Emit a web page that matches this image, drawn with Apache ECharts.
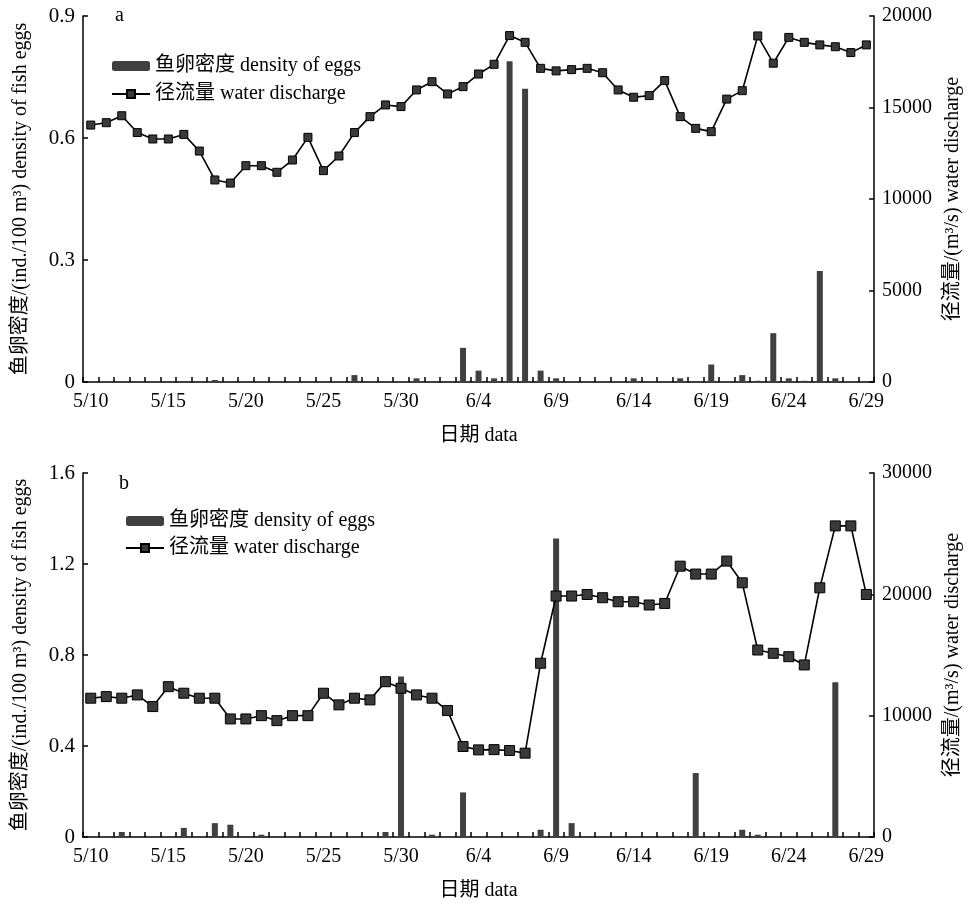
<!DOCTYPE html>
<html>
<head>
<meta charset="utf-8">
<script src="https://cdn.jsdelivr.net/npm/echarts@6/dist/echarts.min.js"></script>
<style>
  html, body { margin: 0; padding: 0; background: #fff; }
  #chart { width: 971px; height: 903px; }
</style>
</head>
<body>
<div id="chart"></div>
<script>
// dates 5/10 - 6/29
const dates = [
  '5/10','5/11','5/12','5/13','5/14','5/15','5/16','5/17','5/18','5/19','5/20',
  '5/21','5/22','5/23','5/24','5/25','5/26','5/27','5/28','5/29','5/30','5/31',
  '6/1','6/2','6/3','6/4','6/5','6/6','6/7','6/8','6/9','6/10','6/11','6/12',
  '6/13','6/14','6/15','6/16','6/17','6/18','6/19','6/20','6/21','6/22','6/23',
  '6/24','6/25','6/26','6/27','6/28','6/29'
]

// panel a
const eggsA = [
  0,0,0,0,0,0,0,0,0.005,0,0,
  0,0,0,0,0,0,0.017,0,0,0,0.009,
  0,0,0.084,0.028,0.009,0.789,0.721,0.028,0.009,0,0,0,
  0,0.009,0,0,0.009,0,0.043,0,0.017,0.003,0.12,
  0.009,0.003,0.273,0.009,0,0
]
const flowA = [
  14040,14170,14550,13630,13280,13280,13530,12620,11040,10870,11820,
  11820,11460,12130,13370,11550,12350,13630,14500,15140,15050,15960,
  16410,15740,16140,16830,17360,18930,18560,17140,17000,17070,17140,16900,
  15960,15560,15650,16470,14500,13860,13680,15460,15920,18910,17420,
  18830,18560,18420,18320,18000,18420
]

// panel b
const eggsB = [
  0,0,0.022,0,0,0,0.04,0,0.061,0.054,0,
  0.01,0,0,0,0,0,0,0,0.022,0.705,0,
  0.01,0,0.196,0,0,0,0,0.032,1.312,0.061,0,0,
  0,0,0,0,0,0.281,0,0,0.032,0.01,0,
  0,0,0,0.68,0,0
]
const flowB = [
  11440,11570,11440,11710,10750,12390,11850,11440,11440,9730,9730,
  10000,9590,10000,10000,11850,10890,11440,11300,12800,12260,11710,
  11440,10420,7460,7180,7200,7130,6910,14320,19860,19860,19990,19720,
  19390,19390,19120,19250,22320,21670,21670,22740,20950,15410,15140,
  14860,14180,20540,25640,25640,19990
]

const FONT = '"Liberation Serif", "Times New Roman", "Noto Sans CJK SC", serif'
const BAR_NAME = '鱼卵密度 density of eggs'
const LINE_NAME = '径流量 water discharge'
const axisLine = { show: true, lineStyle: { color: '#000', width: 1.5 } }
const axisTick = { show: true, inside: true, length: 5, lineStyle: { color: '#000', width: 1.5 } }
const axisLabel = { color: '#000', fontFamily: FONT, fontSize: 20 }
const nameStyle = { color: '#000', fontFamily: FONT, fontSize: 20 }

function xAxis(gridIndex) {
  return {
    type: 'category', gridIndex, data: dates, boundaryGap: true,
    axisLine, axisTick: { ...axisTick, interval: 0 },
    axisLabel: { ...axisLabel, interval: 4, margin: 10 },
    name: '日期 data', nameLocation: 'middle', nameGap: 44, nameTextStyle: nameStyle,
    splitLine: { show: false }
  }
}

function yAxes(gridIndex, leftMax, leftStep, rightMax, rightStep) {
  return [
    {
      type: 'value', gridIndex, position: 'left', min: 0, max: leftMax, interval: leftStep,
      axisLine, axisTick, axisLabel: { ...axisLabel, fontSize: 21, margin: 8 }, splitLine: { show: false },
      name: '鱼卵密度/(ind./100 m³) density of fish eggs', nameLocation: 'middle', nameRotate: 90,
      nameGap: 52, nameTextStyle: nameStyle
    },
    {
      type: 'value', gridIndex, position: 'right', min: 0, max: rightMax, interval: rightStep,
      axisLine, axisTick, splitLine: { show: false },
      axisLabel: { ...axisLabel, margin: 8, formatter: v => String(v) },
      name: '径流量/(m³/s) water discharge', nameLocation: 'middle', nameRotate: 90,
      nameGap: 66, nameTextStyle: nameStyle
    }
  ]
}

function series(idx, eggs, flow, symSize) {
  return [
    {
      name: BAR_NAME, type: 'bar', xAxisIndex: idx, yAxisIndex: idx * 2,
      data: eggs, barWidth: 6, itemStyle: { color: '#404040' }
    },
    {
      name: LINE_NAME, type: 'line', xAxisIndex: idx, yAxisIndex: idx * 2 + 1,
      data: flow, symbol: 'rect', symbolSize: symSize, showAllSymbol: true,
      lineStyle: { color: '#000', width: 1.6 },
      itemStyle: { color: '#3a3a3a', borderColor: '#000', borderWidth: 1 }
    }
  ]
}

function legend(left, top, gap) {
  return {
    left, top, orient: 'vertical', itemWidth: 38, itemHeight: 10, itemGap: gap,
    data: [BAR_NAME, LINE_NAME],
    textStyle: { color: '#000', fontFamily: FONT, fontSize: 20 }
  }
}

const chart = echarts.init(document.getElementById('chart'))
chart.setOption({
  animation: false,
  backgroundColor: '#fff',
  title: [
    { text: 'a', left: 110, top: 1, textStyle: { fontFamily: FONT, fontSize: 20, fontWeight: 'normal', color: '#000' } },
    { text: 'b', left: 114, top: 469, textStyle: { fontFamily: FONT, fontSize: 20, fontWeight: 'normal', color: '#000' } }
  ],
  legend: [legend(106, 51, 8), legend(120, 506, 7)],
  grid: [
    { left: 83, right: 96, top: 16, height: 366 },
    { left: 83, right: 96, top: 473, height: 364 }
  ],
  xAxis: [xAxis(0), xAxis(1)],
  yAxis: [...yAxes(0, 0.9, 0.3, 20000, 5000), ...yAxes(1, 1.6, 0.4, 30000, 10000)],
  series: [...series(0, eggsA, flowA, 8), ...series(1, eggsB, flowB, 10)]
})
</script>
</body>
</html>
